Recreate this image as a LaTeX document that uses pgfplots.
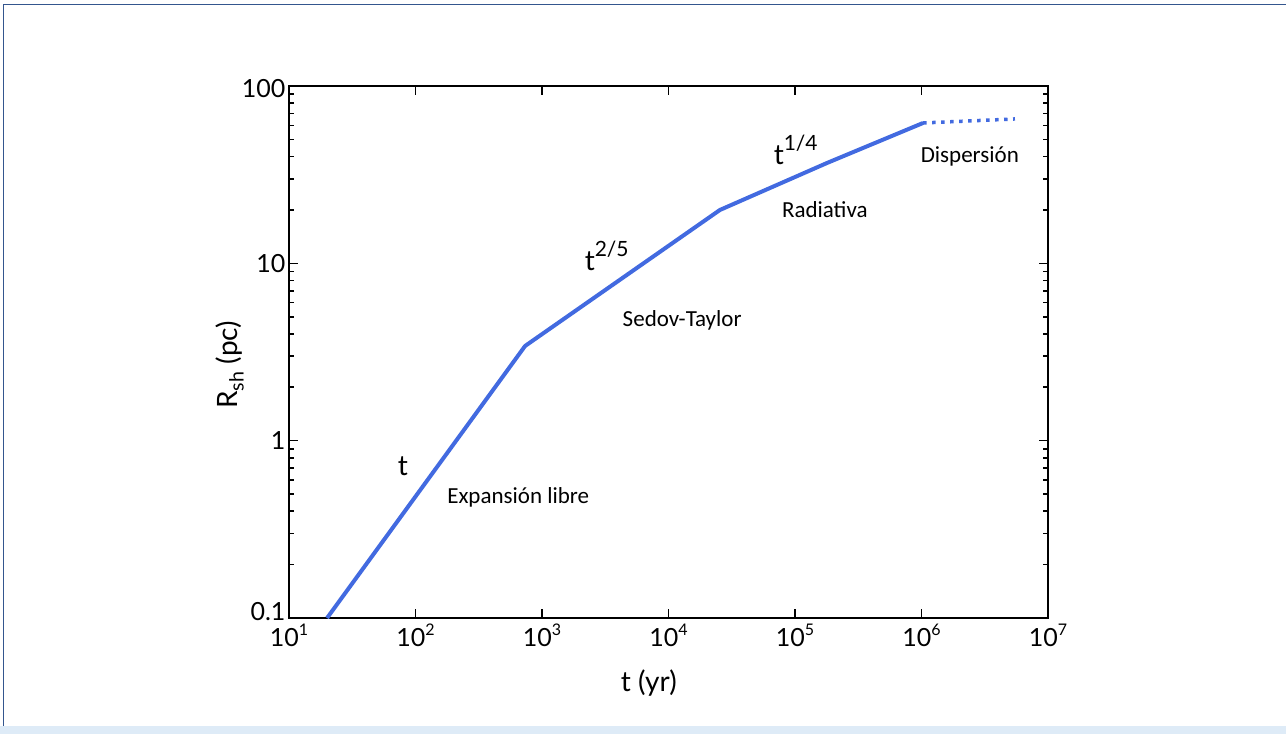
\documentclass[border=0pt]{standalone}
\usepackage{fontspec}
\setmainfont{Lato}
\newfontfamily\calib{Carlito}
\usepackage{pgfplots}
\pgfplotsset{compat=1.18}

\definecolor{curve}{RGB}{66,106,224}
\definecolor{frameblue}{RGB}{52,86,142}
\definecolor{bandblue}{RGB}{222,235,247}

% raised exponent for the power-of-ten tick labels
\newcommand\sps[1]{\raisebox{0.45em}{\fontsize{16}{16}\selectfont #1}}
% exponent for the power-law annotations
\newcommand\pw[1]{\raisebox{0.5em}{\fontsize{21}{21}\selectfont #1}}

\begin{document}
\begin{tikzpicture}
\useasboundingbox (0,0) rectangle (1286pt,734pt);
\fill[bandblue] (0,0) rectangle (1286pt,8.3pt);
\draw[frameblue, line width=1.3pt] (3.5pt,8.3pt) -- (3.5pt,729.7pt) -- (1286pt,729.7pt);
\begin{axis}[
  at={(289pt,116pt)}, anchor=south west,
  scale only axis, width=759pt, height=532pt,
  xmode=log, ymode=log,
  xmin=10, xmax=1e7, ymin=0.1, ymax=100,
  xtick={10,100,1000,10000,100000,1000000,10000000},
  xticklabels={10\sps{1},10\sps{2},10\sps{3},10\sps{4},10\sps{5},10\sps{6},10\sps{7}},
  ytick={0.1,1,10,100},
  yticklabels={{\raisebox{6pt}[0.7em][0pt]{0.1}},1,10,{\raisebox{-3pt}[0.7em][0pt]{100}}},
  xminorticks=false,
  axis line style={line width=2.6pt, black},
  every tick/.style={black, line width=1.6pt},
  major tick length=9pt, minor tick length=5pt,
  tick label style={font=\fontsize{25}{25}\selectfont, text=black},
  xticklabel style={yshift=-2pt},
  xlabel={t (yr)},
  xlabel style={at={(axis description cs:0.474,-0.1222)}, anchor=center,
    font=\fontsize{28}{28}\selectfont},
  ylabel={R\textsubscript{sh} (pc)},
  ylabel style={at={(axis description cs:-0.0777,0.476)}, anchor=center,
    font=\fontsize{28}{28}\selectfont},
  clip=true,
]
\addplot[curve, line width=4pt, line join=round]
  coordinates {(20,0.1) (735,3.42) (25500,20) (179000,36.8) (1030000,61.9)};
\addplot[curve, line width=3.5pt, dash pattern=on 3.5pt off 5.5pt]
  coordinates {(1030000,61.9) (5480000,65.2)};

\node[font=\fontsize{28}{28}\selectfont] at (rel axis cs:0.150,0.286) {t};
\node[font=\calib\fontsize{23}{23}\selectfont] at (rel axis cs:0.302,0.227) {Expansión libre};
\node[font=\fontsize{28}{28}\selectfont, anchor=base west] at (rel axis cs:0.385,0.654) {t\pw{2/5}};
\node[font=\calib\fontsize{23}{23}\selectfont] at (rel axis cs:0.518,0.560) {Sedov-Taylor};
\node[font=\fontsize{28}{28}\selectfont, anchor=base west] at (rel axis cs:0.634,0.852) {t\pw{1/4}};
\node[font=\calib\fontsize{23}{23}\selectfont] at (rel axis cs:0.706,0.767) {Radiativa};
\node[font=\calib\fontsize{23}{23}\selectfont] at (rel axis cs:0.897,0.867) {Dispersión};
\end{axis}
\end{tikzpicture}
\end{document}
